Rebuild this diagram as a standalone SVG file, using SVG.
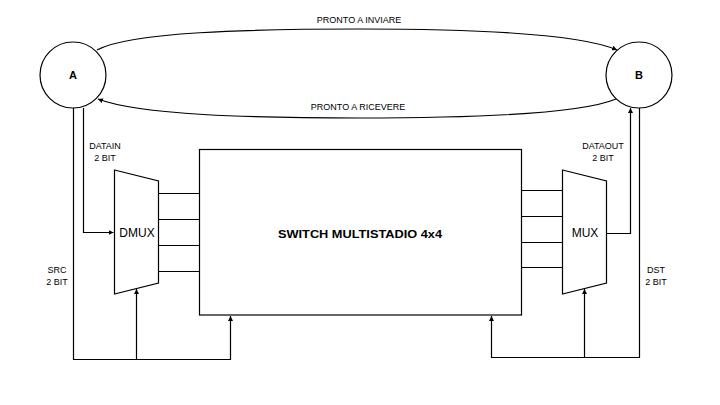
<svg xmlns="http://www.w3.org/2000/svg" width="720" height="405" viewBox="0 0 720 405">
<style>
.s{fill:none;stroke:#000;stroke-width:1.2}
.t{font-family:"Liberation Sans",Arial,sans-serif;font-size:9px;fill:#000;text-anchor:middle}
.n{font-family:"Liberation Sans",Arial,sans-serif;font-size:11px;font-weight:bold;fill:#000;text-anchor:middle}
.m{font-family:"Liberation Sans",Arial,sans-serif;font-size:12px;fill:#000;text-anchor:middle}
</style>
<defs>
<marker id="ah" viewBox="0 0 10 10" refX="10" refY="5" markerWidth="5" markerHeight="5" markerUnits="userSpaceOnUse" orient="auto">
<path d="M0,0 L10,5 L0,10 z" fill="#000"/>
</marker>
</defs>
<rect width="720" height="405" fill="#fff"/>
<g id="nodeA"><circle class="s" cx="73" cy="75" r="33"/><text class="n" x="73" y="79">A</text></g>
<g id="nodeB"><circle class="s" cx="639" cy="75" r="33"/><text class="n" x="639" y="79">B</text></g>
<g id="switch"><rect class="s" x="199.5" y="149.5" width="322" height="165.5"/><text class="n" x="360" y="238" font-size="13" textLength="164" lengthAdjust="spacingAndGlyphs">SWITCH MULTISTADIO 4x4</text></g>
<g id="dmux"><path class="s" d="M114.5,170 L158.5,181 L158.5,283 L114.5,294 Z"/><text class="m" x="137" y="236.5">DMUX</text></g>
<g id="mux"><path class="s" d="M562.5,170 L606.5,181 L606.5,283 L562.5,294 Z"/><text class="m" x="585" y="236.5">MUX</text></g>
<g id="connectors">
<path class="s" d="M97,50 C130,32 250,29 360,29 C470,29 580,34 617,50" marker-end="url(#ah)"/>
<path class="s" d="M616,99 C580,114 470,118 360,118 C250,118 140,115 98,99" marker-end="url(#ah)"/>
<path class="s" d="M83.5,108 L83.5,232.5 L113.5,232.5" marker-end="url(#ah)"/>
<path class="s" d="M73.5,108 L73.5,359.5 L230.5,359.5 L230.5,316" marker-end="url(#ah)"/>
<path class="s" d="M136.5,359.5 L136.5,289" marker-end="url(#ah)"/>
<path class="s" d="M158.5,193.5 H199.5 M158.5,219.5 H199.5 M158.5,245.5 H199.5 M158.5,271.5 H199.5"/>
<path class="s" d="M521.5,190.5 H562.5 M521.5,216.5 H562.5 M521.5,242.5 H562.5 M521.5,267.5 H562.5"/>
<path class="s" d="M606.5,233.5 L630.5,233.5 L630.5,108" marker-end="url(#ah)"/>
<path class="s" d="M639.5,108 L639.5,357.5 L491.5,357.5 L491.5,316" marker-end="url(#ah)"/>
<path class="s" d="M584.5,357.5 L584.5,289" marker-end="url(#ah)"/>
</g>
<g id="labels">
<text class="t" x="359" y="23">PRONTO A INVIARE</text>
<text class="t" x="358" y="110">PRONTO A RICEVERE</text>
<text class="t" x="105" y="149">DATAIN</text>
<text class="t" x="105" y="161">2 BIT</text>
<text class="t" x="57" y="273">SRC</text>
<text class="t" x="57" y="285">2 BIT</text>
<text class="t" x="603" y="149">DATAOUT</text>
<text class="t" x="603" y="161">2 BIT</text>
<text class="t" x="656" y="273">DST</text>
<text class="t" x="656" y="285">2 BIT</text>
</g>
</svg>
